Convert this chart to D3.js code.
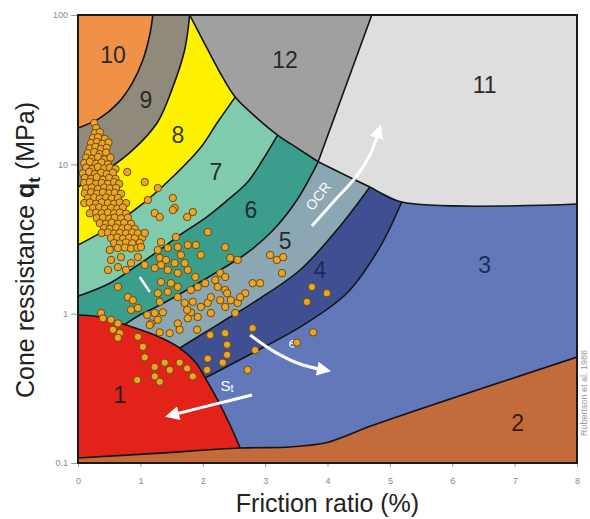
<!DOCTYPE html>
<html><head><meta charset="utf-8">
<script src="https://cdn.jsdelivr.net/npm/d3@7"></script>
<style>body{margin:0;background:#fff}svg{display:block}</style>
</head><body>
<svg id="c" width="590" height="519"></svg>
<script>
// ---------- data ----------
const xTicks = [0,1,2,3,4,5,6,7,8];
const yTicks = [0.1,1,10,100];
const xTitle = "Friction ratio (%)";
const credit = "Robertson et al. 1986";

// zone boundaries  [Rf %, qt MPa]
const b10 = [[1.20,100],[1.15,73.5],[1.04,50],[0.87,35],[0.64,25.7],[0.35,20.4],[0,17.5]];
const b9  = [[1.79,100],[1.71,58.3],[1.52,32.9],[1.27,19.0],[0.88,12.5],[0.46,9.16],[0,7.05]];
const b12 = [[1.79,100],[2.00,68],[2.28,40.9],[2.52,28.2],[2.87,20.4],[3.20,15.7],[3.56,12.5],[3.85,10.4]];
const b11 = [[3.85,10.4],[4.28,8.48],[4.68,7.05],[5.19,5.59],[8,5.42]];
const b11top = [[3.85,10.4],[4.71,100]];
const b8  = [[2.52,28.2],[2.24,19.2],[1.96,12.85],[1.55,8.48],[1.07,5.59],[0.54,3.86],[0,2.88]];
const b7  = [[3.20,15.7],[2.96,10.7],[2.72,7.61],[2.36,5.59],[2.04,4.37],[1.63,3.36],[1.31,2.67],[0.91,2.05],[0.51,1.60],[0,1.31]];
const b6  = [[3.85,10.4],[3.51,5.77],[3.13,3.63],[2.71,2.55],[2.28,1.96],[1.79,1.48],[1.31,1.14],[0.99,0.979],[0.75,0.845]];
const b5  = [[4.68,7.05],[4.15,3.63],[3.56,1.96],[2.87,1.23],[2.28,0.865],[1.63,0.589]];
const b4  = [[5.19,5.59],[4.84,2.79],[4.31,1.37],[3.61,0.839],[2.80,0.545],[2.04,0.371]];
const b1  = [[0,0.979],[0.35,0.949],[0.75,0.845],[1.23,0.719],[1.63,0.589],[1.88,0.474],[2.04,0.371],[2.24,0.264],[2.44,0.179],[2.60,0.126]];
const b2  = [[0,0.108],[1.31,0.1165],[2.60,0.126],[3.40,0.128],[3.96,0.136],[4.28,0.151],[4.60,0.171],[8,0.512]];

const zoneNames  = ["1","2","3","4","5","6","7","8","9","10","11","12"];
const zoneColors = ["#e2231a","#c36b3b","#6278bb","#3f5092","#8ba7b3","#3b9d8b","#80cbad","#fff200","#8f8a7c","#ef9147","#dedede","#a0a0a0"];
const zoneLabelPos = [[0.67,0.285],[7.05,0.185],[6.52,2.12],[3.88,1.96],[3.32,3.06],[2.77,4.94],[2.21,8.88],[1.60,15.7],[1.09,27],[0.56,54],[6.52,34],[3.32,49.9]];
const zoneLabelColors = ["#2a1a1a","#3a2010","#1e2b5a","#1e2b5a","#2a2a2a","#1f2f2f","#2a2a2a","#3a3a20","#2a2a2a","#2a2a2a","#2a2a2a","#2a2a2a"];

// measured points [Rf %, qt MPa]
const denseDots = [
[0.26,18.9],[0.29,17.5],[0.27,16.2],[0.35,16.4],[0.24,15.0],[0.32,15.2],[0.43,14.8],
[0.21,13.9],[0.30,14.1],[0.39,13.7],[0.49,14.0],[0.19,12.8],[0.28,13.1],[0.37,12.7],[0.46,12.9],
[0.16,11.9],[0.26,12.1],[0.35,11.7],[0.45,12.0],[0.13,11.1],[0.22,10.9],[0.32,11.2],[0.42,10.8],[0.52,11.1],
[0.10,10.2],[0.19,10.4],[0.29,10.1],[0.38,10.3],[0.48,10.0],[0.13,9.5],[0.23,9.3],[0.32,9.6],[0.42,9.4],[0.51,9.5],[0.60,9.3],
[0.08,8.7],[0.18,8.9],[0.27,8.6],[0.37,8.8],[0.46,8.6],[0.56,8.8],[0.11,8.1],[0.21,8.0],[0.30,8.2],[0.40,7.9],[0.50,8.1],[0.60,8.0],
[0.10,7.5],[0.19,7.6],[0.29,7.4],[0.38,7.5],[0.48,7.4],[0.58,7.6],[0.66,7.4],[0.13,6.9],[0.22,7.0],[0.32,6.85],[0.42,7.0],[0.51,6.9],[0.61,6.95],
[0.11,6.4],[0.21,6.5],[0.30,6.35],[0.40,6.5],[0.50,6.4],[0.59,6.45],[0.69,6.35],[0.16,5.95],[0.26,6.0],[0.35,5.9],[0.45,6.0],[0.54,5.9],[0.64,5.95],
[0.10,5.5],[0.19,5.55],[0.29,5.45],[0.38,5.55],[0.48,5.5],[0.58,5.45],[0.67,5.55],[0.77,5.5],
[0.24,5.1],[0.34,5.15],[0.43,5.05],[0.53,5.1],[0.63,5.05],[0.72,5.15],
[0.19,4.7],[0.29,4.75],[0.38,4.7],[0.48,4.75],[0.58,4.7],[0.67,4.75],[0.77,4.68],
[0.30,4.37],[0.40,4.4],[0.50,4.33],[0.59,4.4],[0.69,4.35],[0.80,4.4],
[0.35,4.04],[0.45,4.0],[0.54,4.07],[0.64,4.0],[0.74,4.05],[0.85,4.0],
[0.42,3.74],[0.51,3.7],[0.61,3.77],[0.71,3.72],[0.80,3.76],[0.91,3.7],
[0.38,3.47],[0.48,3.5],[0.58,3.44],[0.67,3.48],[0.77,3.45],[0.87,3.5],[0.96,3.45],
[0.53,3.21],[0.63,3.24],[0.72,3.18],[0.82,3.22],[0.91,3.2],[1.03,3.23],
[0.58,2.97],[0.67,2.95],[0.77,3.0],[0.87,2.96],[0.99,2.98],
[0.64,2.75],[0.75,2.77],[0.85,2.73],[0.95,2.76]
];
const scatterDots = [
[0.79,8.88],[1.07,7.61],[1.28,6.94],[1.52,5.95],[1.55,5.10],[1.12,5.77],[1.23,4.72],[1.31,4.44],[1.52,4.94],[1.75,4.44],[1.84,4.79],[2.08,3.52],
[2.36,2.79],[1.57,3.26],[1.33,3.02],[1.28,2.67],[1.44,2.75],[1.60,2.79],[1.76,2.88],[1.89,2.88],[1.97,2.47],[1.65,2.47],[1.31,2.36],[1.41,2.29],
[1.55,2.18],[1.71,2.18],[1.76,1.96],[1.88,1.76],[1.60,1.87],[1.44,1.96],[1.33,2.12],[1.23,2.02],[1.07,2.12],[0.96,2.39],[0.85,2.18],[0.69,2.39],
[0.53,2.29],[0.64,2.05],[0.77,1.96],[0.48,1.96],[0.51,2.67],[1.01,2.79],[1.07,3.47],
[2.44,2.36],[2.56,2.29],[2.28,1.87],[2.36,1.76],[2.20,1.68],[2.04,1.60],[1.92,1.51],[1.81,1.44],[1.60,1.51],[1.49,1.60],[1.33,1.63],[1.44,1.40],
[1.28,1.37],[0.64,1.51],[0.80,1.29],[0.88,1.23],[0.85,1.06],[0.96,1.09],[1.31,1.20],[1.60,1.29],[1.71,1.18],[1.84,1.20],[1.97,1.11],[2.08,1.18],
[2.24,1.51],[2.36,1.44],[2.45,1.23],[2.56,1.18],[2.68,1.37],[2.13,1.29],[1.23,1.01],[1.36,1.02],[1.81,1.02],[1.92,0.95],[2.13,1.01],[2.36,1.11],
[2.52,1.01],[1.60,0.86],[1.76,0.93],[1.28,0.91],[1.17,0.86],[0.37,1.01],[0.53,0.91],[0.64,0.86],
[3.08,2.47],[3.19,2.29],[3.29,2.39],[3.27,1.87],[2.80,1.60],[2.39,1.37],[2.60,1.29],[3.75,1.51],[3.99,1.37],[3.67,1.20],[2.80,0.80],[2.36,0.74],
[3.77,0.75],[3.51,0.64],[2.84,0.57],[2.39,0.53],[2.72,0.42],[2.92,1.60],[2.28,1.23],
[0.40,0.93],[0.56,0.78],[0.67,0.74],[0.64,0.69],[0.96,0.70],[1.04,0.60],[1.07,0.51],[1.23,0.44],[1.39,0.47],[1.23,0.38],[1.31,0.35],[0.95,0.36],
[1.47,0.42],[1.63,0.47],[1.75,0.43],[1.84,0.38],[2.07,0.42],[2.08,0.50],[2.32,0.47],[2.39,0.62],[2.12,0.72],[1.91,0.78],[1.63,0.78],[1.47,0.74],
[1.31,0.75],[1.15,0.84],[1.11,0.98],[1.75,1.06]
];

// annotations [Rf %, qt MPa]
const ocrArrow = [[3.75,3.86],[4.12,5.77],[4.44,8.09],[4.68,11.54],[4.80,15.7]];
const eArrow   = [[2.76,0.72],[3.16,0.553],[3.56,0.46],[3.88,0.425]];
const stArrow  = [[2.79,0.285],[2.20,0.248],[1.57,0.213]];
const hiddenArrow = [[0.99,1.76],[1.15,1.40]];
const ocrLabel = [3.85,6.13], eLabel = [3.45,0.64], stLabel = [2.39,0.333];

// ---------- drawing ----------
const svg = d3.select("#c");
const x = d3.scaleLinear().domain([0,8]).range([78,577]);
const y = d3.scaleLog().domain([0.1,100]).range([463,15]);
const lineC = d3.line().x(d=>x(d[0])).y(d=>y(d[1])).curve(d3.curveCatmullRom.alpha(0.5));
const seg = pts => lineC(pts).replace(/^M/,"L");
const P = (a,b) => `${x(a)},${y(b)}`;

svg.append("defs").append("clipPath").attr("id","plot")
  .append("rect").attr("x",x(0)).attr("y",y(100)).attr("width",x(8)-x(0)).attr("height",y(0.1)-y(100));
const defs = svg.select("defs");
defs.append("marker").attr("id","ah").attr("viewBox","0 0 10 10").attr("refX",2).attr("refY",5)
  .attr("markerWidth",15).attr("markerHeight",14).attr("markerUnits","userSpaceOnUse").attr("orient","auto")
  .append("path").attr("d","M0,0L10,5L0,10Z").attr("fill","#fff");

const g = svg.append("g").attr("clip-path","url(#plot)");
const col = i => zoneColors[i-1];

// zone 3 background
g.append("rect").attr("x",x(0)).attr("y",y(100)).attr("width",x(8)-x(0)).attr("height",y(0.1)-y(100)).attr("fill",col(3));
// zone 11
g.append("path").attr("fill",col(11))
  .attr("d",`M${P(3.85,10.4)}L${P(4.71,100)}L${P(8,100)}L${P(8,5.42)}`+seg(b11.slice().reverse())+"Z");
// zone 12
g.append("path").attr("fill",col(12)).attr("d",`M${P(1.79,100)}`+seg(b12)+`L${P(4.71,100)}Z`);

function fan(arc){
  const s = arc[0];
  let d = `M${P(0,100)}L${P(b12[0][0],100)}`;
  let i = b12.findIndex(p=>p[0]===s[0]&&p[1]===s[1]);
  if (i>=1) d += seg(b12.slice(0,i+1));
  else if (i<0){
    const j = b11.findIndex(p=>p[0]===s[0]&&p[1]===s[1]);
    d += seg(b12) + seg(b11.slice(0,j+1));
  }
  d += seg(arc);
  const e = arc[arc.length-1];
  return d + `L${P(0,e[1])}Z`;
}
[[b4,4],[b5,5],[b6,6],[b7,7],[b8,8],[b9,9]].forEach(([a,z])=>{
  g.append("path").attr("fill",col(z)).attr("d",fan(a));
});
g.append("path").attr("fill",col(10)).attr("d",`M${P(0,100)}`+seg(b10)+"Z");
// zone 1
g.append("path").attr("fill",col(1)).attr("d",`M${P(0,0.979)}`+seg(b1)+seg([b2[2],b2[1],b2[0]])+"Z");
// zone 2
g.append("path").attr("fill",col(2)).attr("d",`M${P(0,0.1)}L${P(0,0.108)}`+seg(b2)+`L${P(8,0.1)}Z`);

// boundaries
[b10,b9,b12,b11,b8,b7,b6,b5,b4,b1,b2].forEach(a=>{
  g.append("path").attr("d",lineC(a)).attr("fill","none").attr("stroke","#151515").attr("stroke-width",1.6);
});
g.append("path").attr("d",d3.line().x(d=>x(d[0])).y(d=>y(d[1]))(b11top)).attr("fill","none").attr("stroke","#151515").attr("stroke-width",1.6);

// zone labels
g.selectAll("text.z").data(zoneNames).join("text").attr("class","z")
  .attr("x",(d,i)=>x(zoneLabelPos[i][0])).attr("y",(d,i)=>y(zoneLabelPos[i][1]))
  .attr("text-anchor","middle").attr("dominant-baseline","central")
  .attr("font-family","Liberation Sans, Arial, sans-serif").attr("font-size",23)
  .attr("fill",(d,i)=>zoneLabelColors[i]).text(d=>d);

// arrows
const lineS = d3.line().x(d=>x(d[0])).y(d=>y(d[1])).curve(d3.curveCatmullRom.alpha(0.5));
g.append("path").attr("d",lineS(hiddenArrow)).attr("fill","none").attr("stroke","#fff").attr("stroke-width",2.5);
[ocrArrow,eArrow,stArrow].forEach(a=>{
  g.append("path").attr("d",lineS(a)).attr("fill","none").attr("stroke","#fff").attr("stroke-width",3)
    .attr("marker-end","url(#ah)");
});
g.append("text").attr("transform",`translate(${x(ocrLabel[0])},${y(ocrLabel[1])}) rotate(-52)`)
  .attr("text-anchor","middle").attr("dominant-baseline","central")
  .attr("font-family","Liberation Sans, Arial, sans-serif").attr("font-size",14).attr("fill","#fff").text("OCR");
g.append("text").attr("transform",`translate(${x(eLabel[0])},${y(eLabel[1])}) rotate(25)`)
  .attr("text-anchor","middle").attr("dominant-baseline","central")
  .attr("font-family","Liberation Sans, Arial, sans-serif").attr("font-size",14).attr("fill","#fff").text("e");
const st = g.append("text").attr("x",x(stLabel[0])).attr("y",y(stLabel[1])).attr("text-anchor","middle")
  .attr("dominant-baseline","central").attr("font-family","Liberation Sans, Arial, sans-serif").attr("font-size",15).attr("fill","#fff");
st.append("tspan").text("S");
st.append("tspan").attr("font-size",11).attr("dy",3).text("t");

// dots
g.selectAll("circle").data(denseDots.concat(scatterDots)).join("circle")
  .attr("cx",d=>x(d[0])).attr("cy",d=>y(d[1])).attr("r",3.7)
  .attr("fill","#eba526").attr("stroke","#6b4a10").attr("stroke-width",1);

// plot border
svg.append("rect").attr("x",x(0)).attr("y",y(100)).attr("width",x(8)-x(0)).attr("height",y(0.1)-y(100))
  .attr("fill","none").attr("stroke","#1a1a1a").attr("stroke-width",2);

// axes
const ya = svg.append("g").attr("transform",`translate(${x(0)-1},0)`)
  .call(d3.axisLeft(y).tickValues(yTicks).tickFormat(d=>String(d)).tickSize(6).tickPadding(3));
const xa = svg.append("g").attr("transform",`translate(0,${y(0.1)+1})`)
  .call(d3.axisBottom(x).tickValues(xTicks).tickFormat(d=>String(d)).tickSize(3).tickPadding(11));
[ya,xa].forEach(a=>{
  a.select(".domain").remove();
  a.selectAll("line").attr("stroke","#999");
  a.selectAll("text").attr("fill","#888").attr("font-size",9).attr("font-family","Liberation Sans, Arial, sans-serif");
});

// titles
svg.append("text").attr("x",(x(0)+x(8))/2).attr("y",512).attr("text-anchor","middle")
  .attr("font-family","Liberation Sans, Arial, sans-serif").attr("font-size",25).attr("fill","#222").text(xTitle);
const yt = svg.append("text").attr("transform","translate(34,250) rotate(-90)").attr("text-anchor","middle")
  .attr("font-family","Liberation Sans, Arial, sans-serif").attr("font-size",25).attr("fill","#222");
yt.append("tspan").text("Cone ressistance ");
yt.append("tspan").attr("font-weight","bold").text("q");
yt.append("tspan").attr("font-weight","bold").attr("font-size",17).attr("dy",6).text("t");
yt.append("tspan").attr("dy",-6).text(" (MPa)");
svg.append("text").attr("transform","translate(587,393) rotate(-90)").attr("text-anchor","middle")
  .attr("font-family","Liberation Sans, Arial, sans-serif").attr("font-size",9).attr("fill","#999").text(credit);
</script>
</body></html>
